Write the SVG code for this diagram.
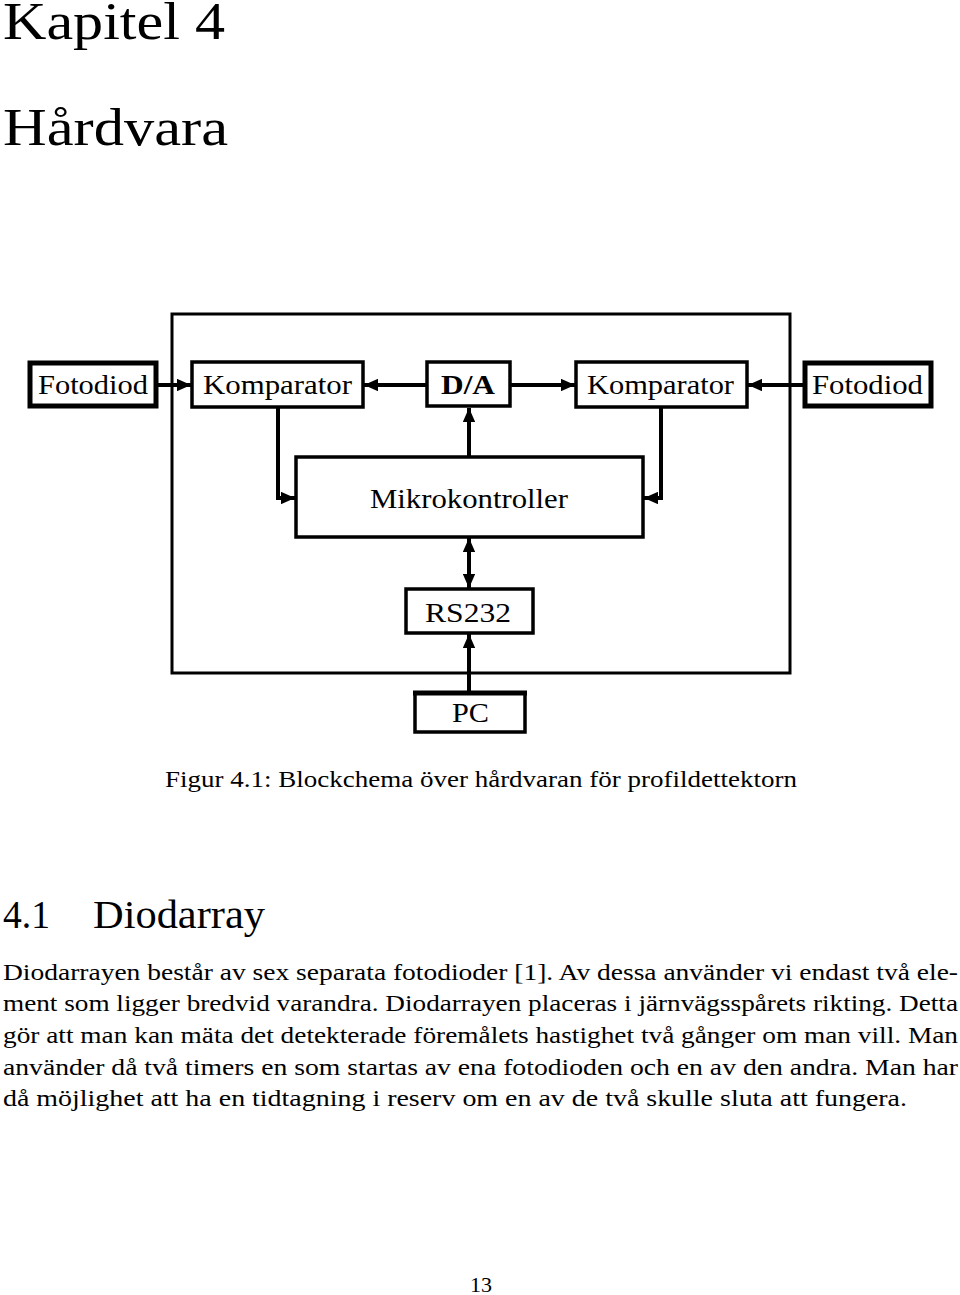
<svg xmlns="http://www.w3.org/2000/svg" width="960" height="1295" viewBox="0 0 960 1295">
<style>
.page{font-family:"Liberation Serif","Times New Roman",serif;fill:#000}
.tx{font-family:"Liberation Serif","Times New Roman",serif;font-size:28px;fill:#000}
.box{fill:#fff;stroke:#000;stroke-width:3.5}
.thick{fill:#fff;stroke:#000;stroke-width:5}
.con{fill:none;stroke:#000;stroke-width:4}
.frame{fill:none;stroke:#000;stroke-width:3}
</style>
<defs>
<marker id="ah" viewBox="0 0 10 10" refX="10" refY="5" markerWidth="3.6" markerHeight="3.2" orient="auto-start-reverse" markerUnits="strokeWidth" preserveAspectRatio="none">
<path d="M0,0 L10,5 L0,10 z" fill="#000"/>
</marker>
</defs>
<rect width="960" height="1295" fill="#fff"/>
<text class="page" x="3" y="39" font-size="52" textLength="222" lengthAdjust="spacingAndGlyphs">Kapitel 4</text>
<text class="page" x="3" y="145" font-size="52" textLength="225" lengthAdjust="spacingAndGlyphs">Hårdvara</text>
<rect class="frame" x="172" y="314" width="618" height="359"/>
<g id="connectors">
<line class="con" x1="157" y1="385" x2="191" y2="385" marker-end="url(#ah)"/>
<line class="con" x1="427" y1="385" x2="364" y2="385" marker-end="url(#ah)"/>
<line class="con" x1="510" y1="385" x2="575" y2="385" marker-end="url(#ah)"/>
<line class="con" x1="804" y1="385" x2="748" y2="385" marker-end="url(#ah)"/>
<polyline class="con" points="278,407 278,498 295,498" marker-end="url(#ah)"/>
<polyline class="con" points="661,407 661,498 644,498" marker-end="url(#ah)"/>
<line class="con" x1="469" y1="457" x2="469" y2="408" marker-end="url(#ah)"/>
<line class="con" x1="469" y1="538" x2="469" y2="588" marker-start="url(#ah)" marker-end="url(#ah)"/>
<line class="con" x1="469" y1="691" x2="469" y2="634" marker-end="url(#ah)"/>
</g>
<g id="fotodiod-l"><rect class="thick" x="30" y="363" width="126" height="43"/><text class="tx" x="38" y="394" textLength="110" lengthAdjust="spacingAndGlyphs">Fotodiod</text></g>
<g id="komparator-l"><rect class="box" x="192" y="362" width="171" height="45"/><text class="tx" x="203" y="394" textLength="149" lengthAdjust="spacingAndGlyphs">Komparator</text></g>
<g id="da"><rect class="box" x="427" y="362" width="83" height="44"/><text class="tx" x="441" y="394" font-weight="bold" textLength="54" lengthAdjust="spacingAndGlyphs">D/A</text></g>
<g id="komparator-r"><rect class="box" x="576" y="362" width="171" height="45"/><text class="tx" x="587" y="394" textLength="147" lengthAdjust="spacingAndGlyphs">Komparator</text></g>
<g id="fotodiod-r"><rect class="thick" x="805" y="363" width="126" height="43"/><text class="tx" x="812" y="394" textLength="111" lengthAdjust="spacingAndGlyphs">Fotodiod</text></g>
<g id="mikrokontroller"><rect class="box" x="296" y="457" width="347" height="80"/><text class="tx" x="370" y="508" textLength="198" lengthAdjust="spacingAndGlyphs">Mikrokontroller</text></g>
<g id="rs232"><rect class="box" x="406" y="589" width="127" height="44"/><text class="tx" x="425" y="622" textLength="86" lengthAdjust="spacingAndGlyphs">RS232</text></g>
<g id="pc"><rect class="box" x="415" y="693" width="110" height="39"/><line x1="413" y1="693" x2="527" y2="693" stroke="#000" stroke-width="5"/><text class="tx" x="452" y="722" textLength="37" lengthAdjust="spacingAndGlyphs">PC</text></g>
<text class="page" x="165" y="787" font-size="23" textLength="632" lengthAdjust="spacingAndGlyphs">Figur 4.1: Blockchema över hårdvaran för profildettektorn</text>
<text class="page" x="3" y="928" font-size="40" textLength="47" lengthAdjust="spacingAndGlyphs">4.1</text>
<text class="page" x="93" y="928" font-size="40" textLength="172" lengthAdjust="spacingAndGlyphs">Diodarray</text>
<g class="page" font-size="23">
<text x="3" y="980" textLength="955" lengthAdjust="spacingAndGlyphs">Diodarrayen består av sex separata fotodioder [1]. Av dessa använder vi endast två ele-</text>
<text x="3" y="1011" textLength="955" lengthAdjust="spacingAndGlyphs">ment som ligger bredvid varandra. Diodarrayen placeras i järnvägsspårets rikting. Detta</text>
<text x="3" y="1043" textLength="955" lengthAdjust="spacingAndGlyphs">gör att man kan mäta det detekterade föremålets hastighet två gånger om man vill. Man</text>
<text x="3" y="1075" textLength="955" lengthAdjust="spacingAndGlyphs">använder då två timers en som startas av ena fotodioden och en av den andra. Man har</text>
<text x="3" y="1106" textLength="904" lengthAdjust="spacingAndGlyphs">då möjlighet att ha en tidtagning i reserv om en av de två skulle sluta att fungera.</text>
</g>
<text class="page" x="470" y="1292" font-size="21" textLength="22" lengthAdjust="spacingAndGlyphs">13</text>
</svg>
